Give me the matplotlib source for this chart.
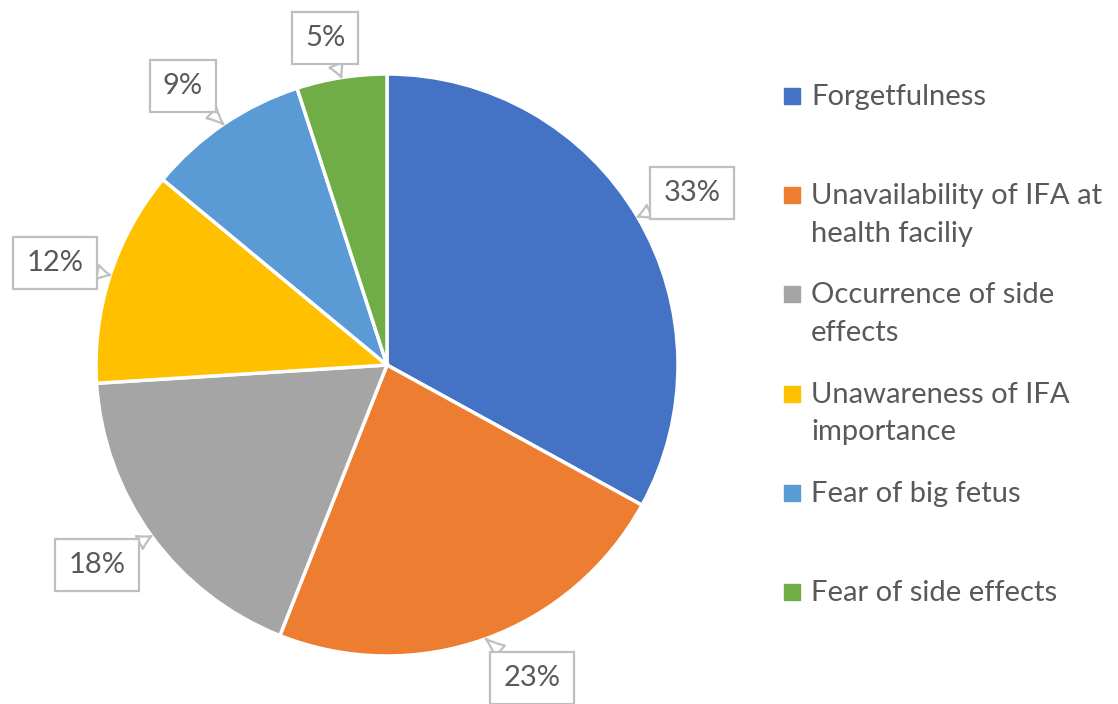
import matplotlib.pyplot as plt
import numpy as np

# data
labels = ["Forgetfulness", "Unavailability of IFA at\nhealth faciliy",
          "Occurrence of side\neffects", "Unawareness of IFA\nimportance",
          "Fear of big fetus", "Fear of side effects"]
values = [33, 23, 18, 12, 9, 5]
colors = ["#4472C4", "#ED7D31", "#A5A5A5", "#FFC000", "#5B9BD5", "#70AD47"]

# callout box centres (pixels)
box_px = [(692, 193), (532, 678), (97, 565), (55, 263), (183, 86), (325, 38)]

W, H = 1118, 704
cx, cy, R = 387, 365, 291
txt = "#595959"
font = "Lato"

def to_data(px, py):
    return (px - cx) / R, (cy - py) / R

fig = plt.figure(figsize=(W / 100, H / 100), dpi=100)
ax = fig.add_axes([0, 0, 1, 1])

wedges, _ = ax.pie(values, colors=colors, startangle=90, counterclock=False,
                   radius=1.0, wedgeprops=dict(edgecolor="white", linewidth=2.5))
ax.set_xlim(-cx / R, (W - cx) / R)
ax.set_ylim(-(H - cy) / R, cy / R)
ax.set_aspect("auto")
ax.axis("off")

# callout labels
for w, v, (bx, by) in zip(wedges, values, box_px):
    ang = np.deg2rad((w.theta1 + w.theta2) / 2)
    anchor = (np.cos(ang), np.sin(ang))
    ax.annotate(f"{v}%", xy=anchor, xytext=to_data(bx, by),
                ha="center", va="center", fontsize=21, color=txt, family=font,
                bbox=dict(boxstyle="square,pad=0.45", fc="white", ec="#BFBFBF", lw=1.6),
                arrowprops=dict(arrowstyle="wedge,tail_width=0.5,shrink_factor=0.4",
                                fc="white", ec="#BFBFBF", lw=1.6,
                                shrinkA=0, shrinkB=0))

# legend
for i, (lab, c) in enumerate(zip(labels, colors)):
    y = 96 + i * 99.2
    mx, my = to_data(792, y)
    ax.scatter([mx], [my], marker="s", s=120, color=c)
    tx, ty = to_data(811, y)
    ax.text(tx, ty + 12 / R, lab, ha="left", va="top", fontsize=21,
            color=txt, family=font, linespacing=1.55)

fig.savefig("out.png", dpi=100)
